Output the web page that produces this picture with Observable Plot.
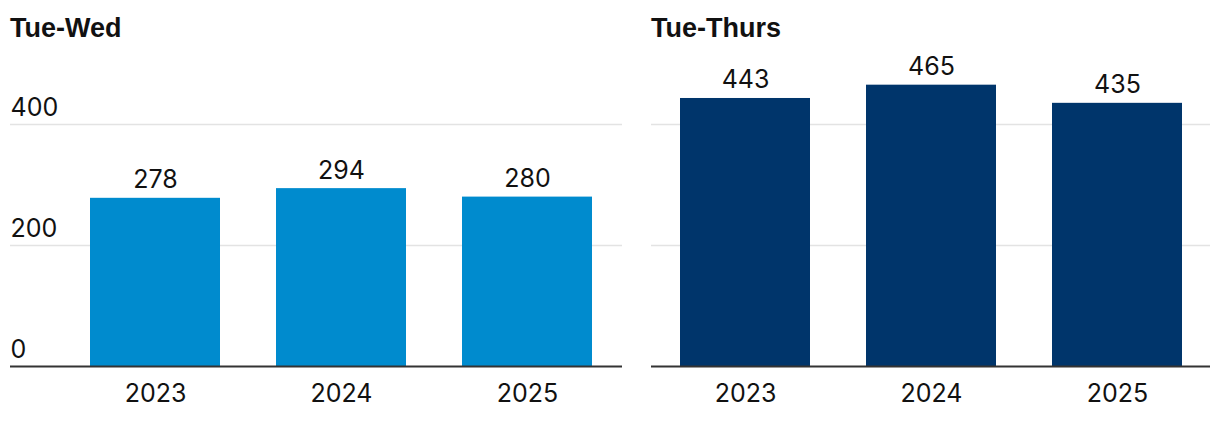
<!DOCTYPE html>
<html>
<head>
<meta charset="utf-8">
<script src="https://cdn.jsdelivr.net/npm/d3@7"></script>
<script src="https://cdn.jsdelivr.net/npm/@observablehq/plot@0.6"></script>
<style>
  body { margin: 0; background: #fff; font-family: Inter, "Noto Sans", sans-serif; }
  #wrap { display: flex; width: 1220px; height: 424px; }
  .panel { position: relative; }
  .title { height: 50px; box-sizing: border-box; padding-top: 13px; font-family: "Liberation Sans", Arial, sans-serif; font-weight: 700; font-size: 27px; color: #111; line-height: 30px; }
  svg { display: block; }
</style>
</head>
<body>
<div id="wrap">
  <div class="panel" id="p1" style="width:622px"><div class="title" style="padding-left:10px">Tue-Wed</div></div>
  <div class="panel" id="p2" style="width:598px"><div class="title" style="padding-left:29px">Tue-Thurs</div></div>
</div>
<script>
const years = ["2023", "2024", "2025"];
const tueWed = [278, 294, 280];
const tueThurs = [443, 465, 435];
const yTicks = [0, 200, 400];
const titles = ["Tue-Wed", "Tue-Thurs"];
const colors = ["#008bce", "#00356b"];

function chart(values, color, opts) {
  const data = years.map((y, i) => ({year: y, value: values[i]}));
  return Plot.plot({
    width: opts.width,
    height: 374,
    marginTop: 13.5,
    marginBottom: 58,
    marginLeft: opts.marginLeft,
    marginRight: opts.marginRight,
    style: {fontFamily: "Inter, 'Noto Sans', sans-serif", color: "#111", background: "#fff"},
    x: {domain: years, paddingInner: 0.302, paddingOuter: opts.po, insetLeft: opts.insetLeft || 0, label: null},
    y: {domain: [0, 500], axis: null},
    marks: [
      Plot.ruleY([200, 400], {stroke: "#e3e3e3", strokeWidth: 1.5}),
      opts.yLabels ? Plot.text(yTicks, {y: d => d, text: d => String(d), frameAnchor: "left", textAnchor: "start", lineAnchor: "bottom", dy: -9, fontSize: 25, fill: "#111"}) : null,
      Plot.barY(data, {x: "year", y: "value", fill: color}),
      Plot.text(data, {x: "year", y: "value", text: d => String(d.value), lineAnchor: "bottom", dy: -10, fontSize: 25, fill: "#111"}),
      Plot.ruleY([0], {stroke: "#333", strokeWidth: 2}),
      Plot.axisX({tickSize: 0, tickPadding: 18, fontSize: 25, fill: "#111", label: null})
    ]
  });
}

document.getElementById("p1").appendChild(chart(tueWed, colors[0], {width: 622, marginLeft: 10, marginRight: 0, insetLeft: 50, po: 0.16, yLabels: true}));
document.getElementById("p2").appendChild(chart(tueThurs, colors[1], {width: 598, marginLeft: 29, marginRight: 10, po: 0.15, yLabels: false}));
</script>
</body>
</html>
